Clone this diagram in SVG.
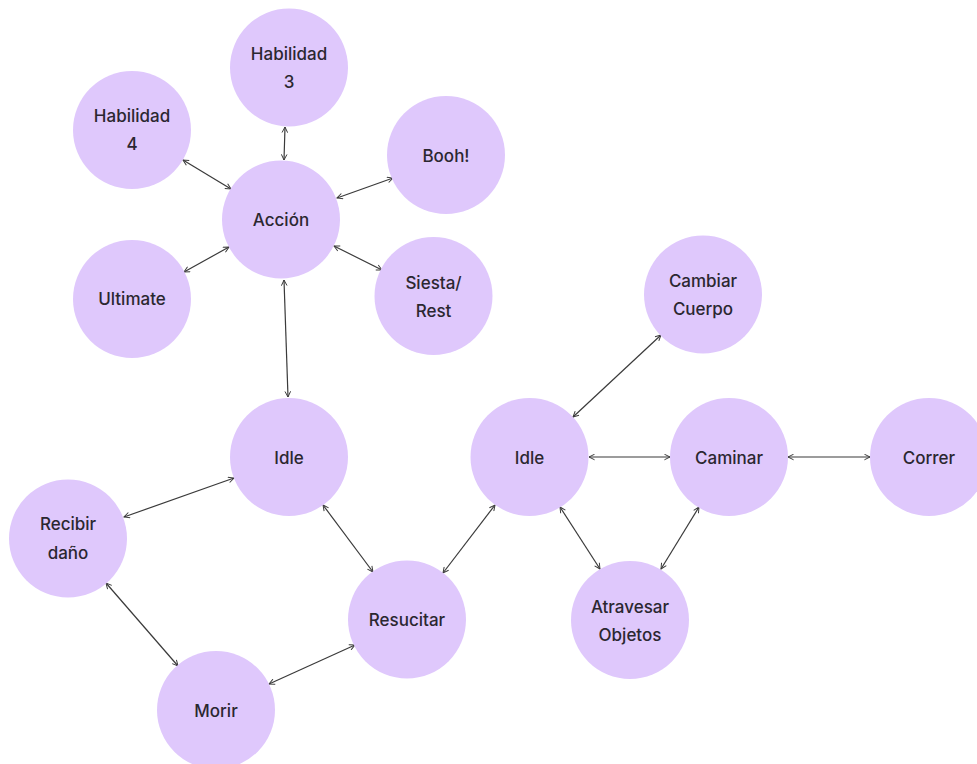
<svg xmlns="http://www.w3.org/2000/svg" width="977" height="764" viewBox="0 0 977 764">
<defs>
<style>
.n{fill:#dfc8fc}
.t{font-family:Inter,"Noto Sans","Liberation Sans",sans-serif;font-size:17px;font-weight:500;fill:#2b2730;text-anchor:middle;dominant-baseline:central}
.c line{stroke:#3a3a3a;stroke-width:1.2;fill:none;marker-start:url(#a);marker-end:url(#a)}
</style>
<marker id="a" viewBox="0 0 10 10" refX="9" refY="5" markerWidth="7" markerHeight="7" markerUnits="userSpaceOnUse" orient="auto-start-reverse">
<path d="M1,1 L9,5 L1,9" fill="none" stroke="#3a3a3a" stroke-width="1.4"/>
</marker>
</defs>
<rect width="977" height="764" fill="#ffffff"/>
<g id="connectors" class="c">
<line x1="285" y1="127" x2="284" y2="160"/>
<line x1="183" y1="160" x2="231" y2="189"/>
<line x1="393" y1="178" x2="337" y2="198"/>
<line x1="184" y1="272" x2="229" y2="247"/>
<line x1="334" y1="246" x2="382" y2="270"/>
<line x1="284" y1="280" x2="288" y2="397"/>
<line x1="234" y1="478" x2="124" y2="517"/>
<line x1="323" y1="505" x2="373" y2="572"/>
<line x1="106" y1="583" x2="178" y2="666"/>
<line x1="269" y1="684" x2="355" y2="645"/>
<line x1="443" y1="573" x2="495" y2="505"/>
<line x1="573" y1="417" x2="661" y2="335"/>
<line x1="589" y1="457" x2="670" y2="457"/>
<line x1="788" y1="457" x2="870" y2="457"/>
<line x1="560" y1="507" x2="600" y2="569"/>
<line x1="699" y1="507" x2="661" y2="569"/>
</g>
<g id="habilidad3"><circle class="n" cx="289" cy="67.5" r="59"/><text class="t" x="289" y="54">Habilidad</text><text class="t" x="289" y="82">3</text></g>
<g id="habilidad4"><circle class="n" cx="132" cy="130" r="59"/><text class="t" x="132" y="116">Habilidad</text><text class="t" x="132" y="144">4</text></g>
<g id="booh"><circle class="n" cx="446" cy="155" r="59"/><text class="t" x="446" y="156">Booh!</text></g>
<g id="accion"><circle class="n" cx="281" cy="219.5" r="59"/><text class="t" x="281" y="220">Acción</text></g>
<g id="ultimate"><circle class="n" cx="132" cy="299" r="59"/><text class="t" x="132" y="299">Ultimate</text></g>
<g id="siesta"><circle class="n" cx="433.5" cy="296" r="59"/><text class="t" x="433.5" y="283">Siesta/</text><text class="t" x="433.5" y="311">Rest</text></g>
<g id="cambiar"><circle class="n" cx="703" cy="294.5" r="59"/><text class="t" x="703" y="281">Cambiar</text><text class="t" x="703" y="309">Cuerpo</text></g>
<g id="idle-left"><circle class="n" cx="289" cy="457" r="59"/><text class="t" x="289" y="458">Idle</text></g>
<g id="idle-right"><circle class="n" cx="529.5" cy="457" r="59"/><text class="t" x="529.5" y="458">Idle</text></g>
<g id="caminar"><circle class="n" cx="729" cy="457" r="59"/><text class="t" x="729" y="458">Caminar</text></g>
<g id="correr"><circle class="n" cx="929" cy="457" r="59"/><text class="t" x="929" y="458">Correr</text></g>
<g id="recibir"><circle class="n" cx="68" cy="538.5" r="59"/><text class="t" x="68" y="524">Recibir</text><text class="t" x="68" y="553">daño</text></g>
<g id="resucitar"><circle class="n" cx="407" cy="619.5" r="59"/><text class="t" x="407" y="620">Resucitar</text></g>
<g id="atravesar"><circle class="n" cx="630" cy="620" r="59"/><text class="t" x="630" y="607">Atravesar</text><text class="t" x="630" y="635">Objetos</text></g>
<g id="morir"><circle class="n" cx="216" cy="710" r="59"/><text class="t" x="216" y="711">Morir</text></g>
</svg>
